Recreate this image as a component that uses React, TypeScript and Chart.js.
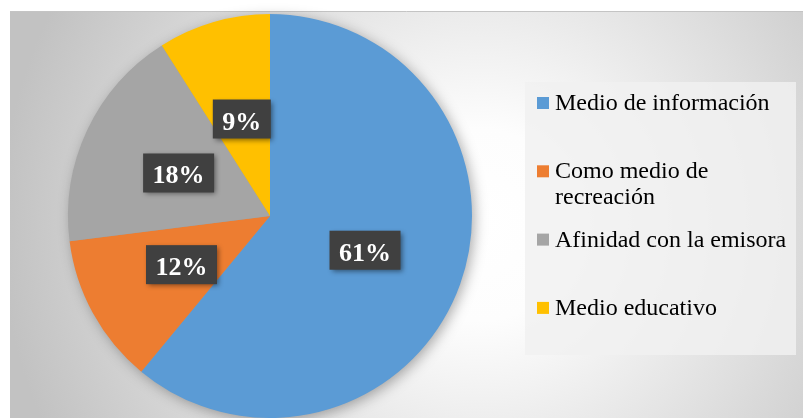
import { useEffect, useRef } from 'react';
import { Chart, registerables } from 'chart.js';

Chart.register(...registerables);

const categories = ['Medio de información', 'Como medio de recreación', 'Afinidad con la emisora', 'Medio educativo'];
const values = [61, 12, 18, 9];
const valueLabels = ['61%', '12%', '18%', '9%'];
const colors = ['#5B9BD5', '#ED7D31', '#A5A5A5', '#FFC000'];

const SERIF = '"Liberation Serif", "Times New Roman", serif';

const backgroundPlugin = {
  id: 'bgPanel',
  beforeDraw(chart: any) {
    const ctx = chart.ctx;
    const W = chart.width;
    const H = chart.height;
    ctx.save();
    ctx.fillStyle = '#ffffff';
    ctx.fillRect(0, 0, W, H);
    const g = ctx.createRadialGradient(480, 225, 0, 480, 225, 480);
    g.addColorStop(0, '#ffffff');
    g.addColorStop(0.2, '#fdfdfd');
    g.addColorStop(1, '#c2c2c2');
    ctx.fillStyle = g;
    ctx.fillRect(10, 11, W - 10, H - 11);
    ctx.strokeStyle = '#c4c4c4';
    ctx.lineWidth = 1;
    ctx.beginPath();
    ctx.moveTo(10, 11.5);
    ctx.lineTo(W, 11.5);
    ctx.stroke();
    ctx.restore();
  },
  beforeDatasetsDraw(chart: any) {
    const meta = chart.getDatasetMeta(0);
    const arc = meta.data[0];
    if (!arc) return;
    const ctx = chart.ctx;
    ctx.save();
    ctx.shadowColor = 'rgba(0,0,0,0.35)';
    ctx.shadowBlur = 14;
    ctx.shadowOffsetX = 3;
    ctx.shadowOffsetY = 3;
    ctx.fillStyle = '#9a9a9a';
    ctx.beginPath();
    ctx.arc(arc.x, arc.y, arc.outerRadius - 1, 0, Math.PI * 2);
    ctx.fill();
    ctx.restore();
  },
};

const labelPlugin = {
  id: 'valueBoxes',
  afterDatasetsDraw(chart: any) {
    const ctx = chart.ctx;
    const meta = chart.getDatasetMeta(0);
    ctx.save();
    ctx.font = `bold 26px ${SERIF}`;
    meta.data.forEach((arc: any, i: number) => {
      const p = arc.tooltipPosition(false);
      const text = valueLabels[i];
      const tw = ctx.measureText(text).width;
      const w = tw + 19;
      const h = 39;
      ctx.save();
      ctx.shadowColor = 'rgba(0,0,0,0.45)';
      ctx.shadowBlur = 5;
      ctx.shadowOffsetX = 2;
      ctx.shadowOffsetY = 2;
      ctx.fillStyle = '#404040';
      ctx.fillRect(p.x - w / 2, p.y - h / 2, w, h);
      ctx.restore();
      ctx.fillStyle = '#ffffff';
      ctx.textAlign = 'center';
      ctx.textBaseline = 'alphabetic';
      ctx.fillText(text, p.x, p.y + 10.5);
    });
    ctx.restore();
  },
};

function wrapText(ctx: any, text: string, maxW: number): string[] {
  const words = text.split(' ');
  const lines: string[] = [];
  let cur = '';
  for (const w of words) {
    const t = cur ? cur + ' ' + w : w;
    if (ctx.measureText(t).width > maxW && cur) {
      lines.push(cur);
      cur = w;
    } else {
      cur = t;
    }
  }
  if (cur) lines.push(cur);
  return lines;
}

const legendPlugin = {
  id: 'sideLegend',
  afterDraw(chart: any) {
    const ctx = chart.ctx;
    const labels: string[] = chart.data.labels;
    const bg: string[] = chart.data.datasets[0].backgroundColor;
    ctx.save();
    ctx.fillStyle = 'rgba(241,241,241,0.83)';
    ctx.fillRect(525, 82, 271, 273);
    ctx.font = `24px ${SERIF}`;
    ctx.textAlign = 'left';
    ctx.textBaseline = 'alphabetic';
    const slotTop = 90.5;
    const slot = 68.3;
    labels.forEach((lab, i) => {
      const top = slotTop + i * slot;
      const base = top + 19.5;
      ctx.fillStyle = bg[i];
      ctx.fillRect(537, base - 13, 12, 12);
      ctx.fillStyle = '#000000';
      const lines = wrapText(ctx, lab, 236);
      lines.forEach((ln, j) => {
        ctx.fillText(ln, 555, base + j * 26);
      });
    });
    ctx.restore();
  },
};

export default function App() {
  const ref = useRef<HTMLCanvasElement | null>(null);
  useEffect(() => {
    if (!ref.current) return;
    const chart = new Chart(ref.current, {
      type: 'pie',
      data: {
        labels: categories,
        datasets: [
          {
            data: values,
            backgroundColor: colors,
            borderWidth: 0,
            hoverOffset: 0,
          },
        ],
      },
      options: {
        responsive: false,
        animation: false,
        devicePixelRatio: 1,
        layout: { padding: { left: 68, right: 331, top: 14, bottom: 0 } },
        plugins: {
          legend: { display: false },
          tooltip: { enabled: false },
        },
      },
      plugins: [backgroundPlugin, labelPlugin, legendPlugin],
    });
    return () => chart.destroy();
  }, []);
  return (
    <div style={{ position: 'fixed', left: 0, top: 0, width: 803, height: 418 }}>
      <canvas ref={ref} width={803} height={418} style={{ display: 'block' }} />
    </div>
  );
}
